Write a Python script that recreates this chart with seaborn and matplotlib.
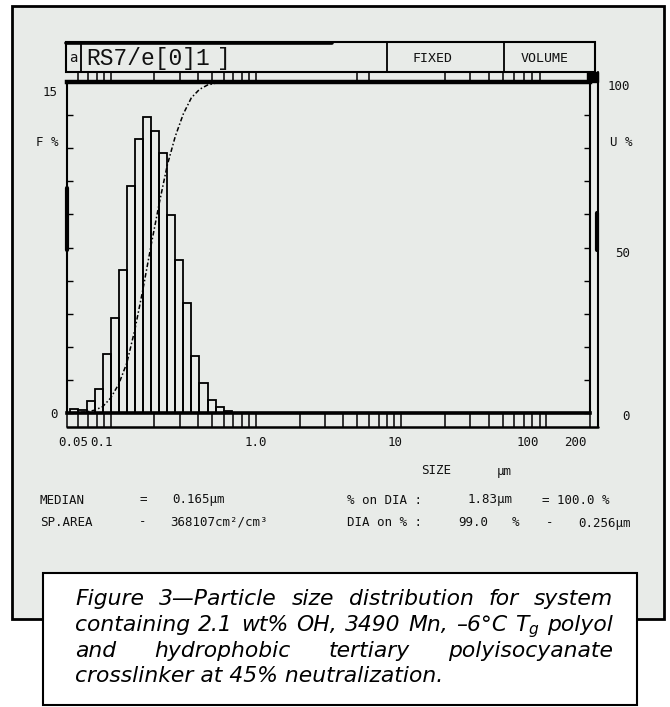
import numpy as np
import matplotlib
matplotlib.use("Agg")
import matplotlib.pyplot as plt
import seaborn as sns
from matplotlib.patches import Rectangle
from matplotlib.ticker import FixedLocator, LogLocator, NullFormatter

# size classes (um), 18 classes per decade as on the analyser
size_edges = [0.05275, 0.05995, 0.06813, 0.07743, 0.08799, 0.1000, 0.11365,
              0.12915, 0.14678, 0.16681, 0.18957, 0.21544, 0.24484, 0.27826,
              0.31623, 0.35938, 0.40842, 0.46416, 0.52749, 0.59948, 0.68129]
# volume % in each class
vol_pct = [0.18, 0.15, 0.54, 1.07, 2.68, 4.29, 6.48, 10.3, 12.4, 13.4,
           12.8, 11.8, 8.96, 6.92, 4.98, 2.57, 1.35, 0.57, 0.28, 0.08]

x_ticks = [0.05, 0.1, 1, 10, 100, 200]
x_tick_labels = ["0.05", "0.1", "1.0", "10", "100", "200"]
x_label_shift = [6, -9, 0, -6, -19, -15]   # printout puts labels a bit off the ticks

caption = [
    "Figure 3\u2014Particle size distribution for system",
    "containing 2.1 wt% OH, 3490 Mn, \u20136\u00b0C $T_g$ polyol",
    "and hydrophobic tertiary polyisocyanate",
    "crosslinker at 45% neutralization.",
]

W, H = 670, 707
sns.set_style("white")

fig = plt.figure(figsize=(W / 100, H / 100), dpi=100)
fig.patch.set_facecolor("white")


def box(x0, y0, x1, y1):
    return [x0 / W, 1 - y1 / H, (x1 - x0) / W, (y1 - y0) / H]


# background layer in pixel coordinates
bg = fig.add_axes([0, 0, 1, 1], zorder=0)
bg.set_xlim(0, W)
bg.set_ylim(H, 0)
bg.axis("off")

GRAY = "#e8ebe8"
INK = "#111111"
bg.add_patch(Rectangle((12, 6), 652, 613, fc=GRAY, ec="black", lw=2, zorder=1))
bg.add_patch(Rectangle((43, 573), 594, 132, fc="white", ec="black", lw=1.5, zorder=5))

# header box
bg.add_patch(Rectangle((66, 42), 529, 30, fc="none", ec="black", lw=1.5, zorder=2))
bg.plot([66, 332], [42.5, 42.5], color="black", lw=2.6, zorder=2)
for xv in [81, 387, 504]:
    bg.plot([xv, xv], [42, 72], color="black", lw=1.3, zorder=2)
bg.text(73, 58, "a", family="DejaVu Sans Mono", fontsize=10, color=INK,
        ha="center", va="center", zorder=3)
bg.text(86, 58, "RS7/e[0]1", family="Liberation Mono", fontsize=16.5, color=INK,
        ha="left", va="center", zorder=3)
bg.text(224, 58, "]", family="Liberation Mono", fontsize=16.5, color=INK,
        ha="center", va="center", zorder=3)
bg.text(432, 58, "FIXED", family="DejaVu Sans Mono", fontsize=9.5, color=INK,
        ha="center", va="center", zorder=3)
bg.text(545, 58, "VOLUME", family="DejaVu Sans Mono", fontsize=9.5, color=INK,
        ha="center", va="center", zorder=3)

# outer frame of the plotting window and marker square
bg.plot([598, 598], [72, 427], color="black", lw=1.5, zorder=2)
bg.plot([67, 598], [427, 427], color="black", lw=1.8, zorder=2)
bg.add_patch(Rectangle((587, 72), 11, 10, fc="black", ec="black", zorder=3))
bg.plot([597, 597], [213, 250], color="black", lw=3, zorder=2)
bg.plot([67, 67], [188, 250], color="black", lw=3, zorder=2)

# main histogram axes
ax = fig.add_axes(box(67, 82, 590, 413), zorder=2)
ax.set_facecolor("none")
ax.set_xscale("log")
ax.bar(size_edges[:-1], vol_pct, width=np.diff(size_edges), align="edge",
       fill=False, edgecolor="black", linewidth=1.3)
ax.set_xlim(0.05, 200)
ax.set_ylim(0, 15)
ax.set_yticks(np.arange(0, 15.01, 1.5))
ax.tick_params(axis="y", left=True, direction="in", length=4, width=1,
               color="black", labelleft=False)
ax.tick_params(axis="x", which="both", length=0, labelbottom=False)
ax.spines["top"].set_linewidth(3.2)
ax.spines["bottom"].set_linewidth(2.6)
ax.spines["left"].set_linewidth(1.5)
ax.spines["right"].set_linewidth(1.5)
for s in ax.spines.values():
    s.set_color("black")

# cumulative undersize curve
cum = np.concatenate([[0], np.cumsum(vol_pct)]) / np.sum(vol_pct) * 100
ax2 = ax.twinx()
sns.lineplot(x=size_edges, y=cum, ax=ax2, color="black", lw=1.1,
             linestyle=(0, (3, 1.5, 1, 1.5)))
ax2.set_ylim(0, 100)
ax2.set_xlim(0.05, 200)
ax2.set_yticks(range(0, 101, 10))
ax2.tick_params(axis="y", right=True, direction="in", length=4, width=1,
                color="black", labelright=False)
ax2.set_ylabel("")
for s in ax2.spines.values():
    s.set_visible(False)

mono = dict(family="DejaVu Sans Mono", fontsize=9, color=INK)
side = dict(xycoords="axes fraction", textcoords="offset pixels", va="center", **mono)
ax.annotate("15", xy=(0, 1), xytext=(-9, -10), ha="right", **side)
ax.annotate("F %", xy=(0, 1), xytext=(-9, -61), ha="right", **side)
ax.annotate("0", xy=(0, 0), xytext=(-9, -2), ha="right", **side)
ax.annotate("100", xy=(1, 1), xytext=(40, -5), ha="right", **side)
ax.annotate("U %", xy=(1, 1), xytext=(42, -60), ha="right", **side)
ax.annotate("50", xy=(1, 0.5), xytext=(40, -6), ha="right", **side)
ax.annotate("0", xy=(1, 0), xytext=(40, -4), ha="right", **side)

for v, lab, dx in zip(x_ticks, x_tick_labels, x_label_shift):
    ax.annotate(lab, xy=(v, 0), xycoords=("data", "axes fraction"),
                xytext=(dx, -30), textcoords="offset pixels",
                ha="center", va="center", **mono)

# ruler strips above and below the plot
sb = fig.add_axes(box(67, 413, 590, 427), zorder=2)
st = fig.add_axes(box(67, 72, 590, 82), zorder=2)
for s_ax, h in [(sb, 14), (st, 10)]:
    s_ax.set_facecolor("none")
    s_ax.set_xscale("log")
    s_ax.set_xlim(0.05, 200)
    s_ax.set_yticks([])
    for s in s_ax.spines.values():
        s.set_visible(False)
sb.xaxis.set_major_locator(LogLocator(base=10, subs=np.arange(1, 10), numticks=20))
sb.xaxis.set_minor_locator(FixedLocator([]))
sb.xaxis.set_major_formatter(NullFormatter())
st.xaxis.set_major_locator(FixedLocator([0.06, 0.07, 0.08, 0.09, 0.1, 0.2, 0.3, 0.4,
                                         0.5, 0.6, 0.7, 0.8, 0.9, 1, 5, 6,
                                         20, 30, 40, 50, 60, 70, 80, 90]))
st.xaxis.set_minor_locator(FixedLocator([]))
st.xaxis.set_major_formatter(NullFormatter())
for s_ax, h in [(sb, 14), (st, 10)]:
    s_ax.tick_params(axis="x", which="both", bottom=True, direction="in",
                     length=h * 0.72, width=1.1, color="black", labelbottom=False)

# read-out text under the chart
rows = [
    (40, 500, "MEDIAN"), (139, 500, "="), (172, 500, "0.165\u00b5m"),
    (40, 522, "SP.AREA"), (139, 522, "-"), (170, 522, "368107cm\u00b2/cm\u00b3"),
    (347, 500, "% on DIA :"), (468, 500, "1.83\u00b5m"), (542, 500, "= 100.0 %"),
    (347, 523, "DIA on % :"), (458, 523, "99.0"), (512, 523, "%"),
    (546, 523, "-"), (578, 523, "0.256\u00b5m"),
    (421, 471, "SIZE"), (497, 471, "\u00b5m"),
]
for xv, yv, txt in rows:
    bg.text(xv, yv, txt, ha="left", va="center", zorder=3, **mono)

# justified oblique caption
renderer = fig.canvas.get_renderer()
cap = dict(family="DejaVu Sans", style="oblique", color="black")


def text_w(s, fs):
    t = bg.text(0, 0, s, fontsize=fs, **cap)
    w = t.get_window_extent(renderer).width
    t.remove()
    return w


fs = 13 * 367 / text_w(caption[-1], 13)
x_left, x_right = 75, 613
baselines = [605, 631, 657, 682]
for i, (line, yb) in enumerate(zip(caption, baselines)):
    if i == len(caption) - 1:
        bg.text(x_left, yb, line, fontsize=fs, ha="left", va="baseline", zorder=6, **cap)
        continue
    words = line.replace("$T_g$", "\x00").split(" ")
    words = [w.replace("\x00", "$T_g$") for w in words]
    widths = [text_w(w, fs) for w in words]
    gap = (x_right - x_left - sum(widths)) / (len(words) - 1)
    xc = x_left
    for w, ww in zip(words, widths):
        bg.text(xc, yb, w, fontsize=fs, ha="left", va="baseline", zorder=6, **cap)
        xc += ww + gap

fig.savefig("out.png", dpi=100, facecolor="white")
